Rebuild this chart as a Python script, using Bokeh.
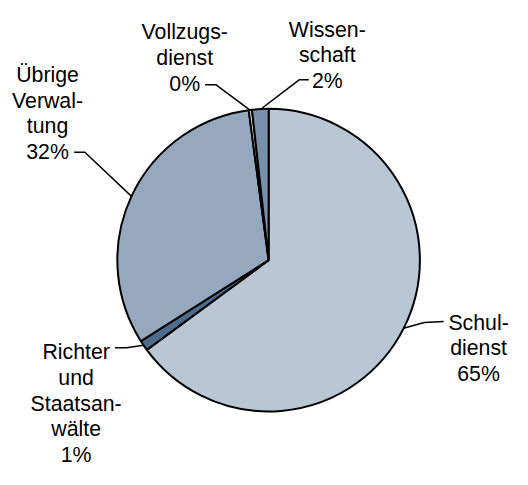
import numpy as np
from bokeh.plotting import figure
from bokeh.models import Range1d, ColumnDataSource
from bokeh.core.properties import value
from bokeh.embed import file_html
from bokeh.resources import INLINE

# ---- data ----
categories = ["Schul-\ndienst", "Richter\nund\nStaatsan-\nwälte", "Übrige\nVerwal-\ntung",
              "Vollzugs-\ndienst", "Wissen-\nschaft"]
shares = [64.9, 1.1, 31.9, 0.35, 1.75]
colors = ["#B9C6D3", "#4E6D8C", "#95A8BD", "#D6DEE7", "#7890A9"]

# ---- layout (reference-space pixels, 528 x 485 canvas) ----
RW, RH = 528, 485
W, H = 512, 469
cx_s, cy_s, R = 276.5, 268.5, 156
# label: centre x, first baseline y
label_pos = [(493, 333), (78, 364), (48.5, 77), (190, 33), (337, 30)]
# leader: point at text, elbow
leader_text = [(457, 332), (118, 359), (76, 157), (211, 87), (318, 82)]
leader_elbow = [(437, 333), (130, 359), (87, 157), (222, 87), (308, 82)]
LINE_SP = 26.5
FONT_PX = 22 * H / RH


def Y(ys):
    return RH - ys


p = figure(width=W, height=H, output_backend="svg", toolbar_location=None,
           x_range=Range1d(0, RW), y_range=Range1d(0, RH),
           x_axis_type=None, y_axis_type=None, min_border=0)
p.grid.visible = False
p.outline_line_color = None
p.background_fill_color = "white"
p.border_fill_color = "white"

fr = np.array(shares) / sum(shares)
cum = np.concatenate([[0], np.cumsum(fr)])
start = np.pi / 2 - 2 * np.pi * cum[1:]
end = np.pi / 2 - 2 * np.pi * cum[:-1]
src = ColumnDataSource(dict(start=start, end=end, color=colors))
p.wedge(x=cx_s, y=Y(cy_s), radius=R, start_angle="start", end_angle="end",
        fill_color="color", line_color="black", line_width=2, source=src)

# leaders
xs, ys = [], []
mid = (cum[:-1] + cum[1:]) / 2
for i in range(len(shares)):
    a = 2 * np.pi * mid[i]
    px = cx_s + R * np.sin(a)
    py = cy_s - R * np.cos(a)
    xs.append([leader_text[i][0], leader_elbow[i][0], px])
    ys.append([Y(leader_text[i][1]), Y(leader_elbow[i][1]), Y(py)])
p.multi_line(xs=xs, ys=ys, line_color="black", line_width=1.5)

# labels
tx, ty, tt = [], [], []
for i, (cat, v) in enumerate(zip(categories, shares)):
    lines = cat.split("\n") + [f"{round(v)}%"]
    for j, ln in enumerate(lines):
        tx.append(label_pos[i][0])
        ty.append(Y(label_pos[i][1] + j * LINE_SP))
        tt.append(ln)
p.text(x=tx, y=ty, text=tt, text_align="center", text_baseline="alphabetic",
       text_font=value("Liberation Sans"), text_font_size=f"{FONT_PX:.1f}px",
       text_color="black")

open("out.html", "w").write(file_html(p, INLINE))
